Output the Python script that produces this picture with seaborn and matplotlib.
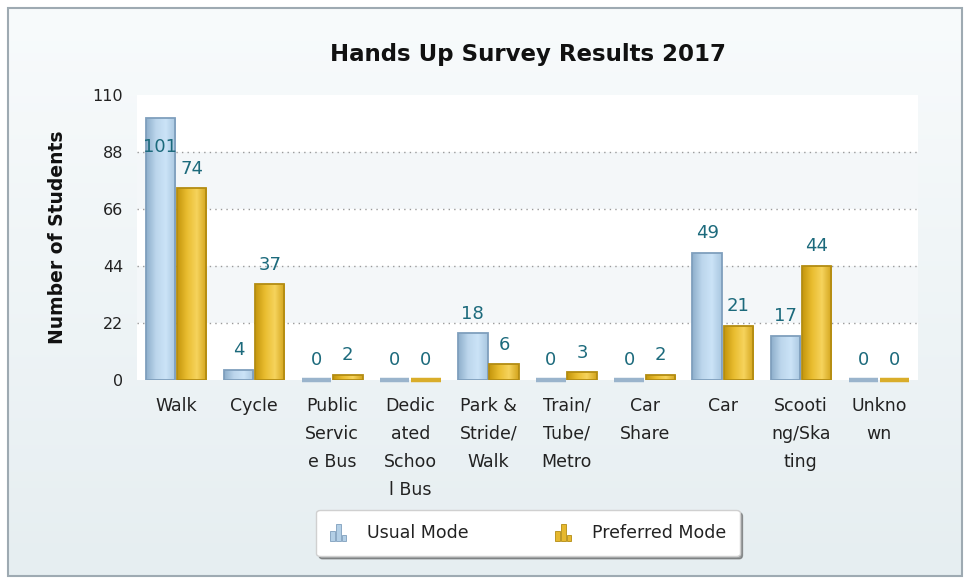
import numpy as np
import pandas as pd
import matplotlib
matplotlib.use("Agg")
import matplotlib.pyplot as plt
import seaborn as sns
from matplotlib.patches import Rectangle
from matplotlib.colors import LinearSegmentedColormap
from matplotlib.legend_handler import HandlerBase

# ---------------- data ----------------
categories = ["Walk", "Cycle", "Public Service Bus", "Dedicated School Bus",
              "Park & Stride/Walk", "Train/Tube/Metro", "Car Share", "Car",
              "Scooting/Skating", "Unknown"]
tick_labels = ["Walk", "Cycle", "Public\nServic\ne Bus", "Dedic\nated\nSchoo\nl Bus",
               "Park &\nStride/\nWalk", "Train/\nTube/\nMetro", "Car\nShare", "Car",
               "Scooti\nng/Ska\nting", "Unkno\nwn"]
usual = [101, 4, 0, 0, 18, 0, 0, 49, 17, 0]
preferred = [74, 37, 2, 0, 6, 3, 2, 21, 44, 0]
series_names = ["Usual Mode", "Preferred Mode"]
yticks = [0, 22, 44, 66, 88, 110]
title = "Hands Up Survey Results 2017"
ylabel = "Number of Students"

df = pd.DataFrame({
    "category": categories * 2,
    "value": usual + preferred,
    "mode": [series_names[0]] * len(categories) + [series_names[1]] * len(categories),
})

base_colors = ["#b3cfe6", "#e6b82e"]
edge_colors = ["#7f9fbd", "#b38c12"]
zero_colors = ["#9ab4cc", "#d9ad2a"]
grad_colors = [["#8eaecb", "#bcd6ec", "#cbe3f7", "#a9c7e0"],
               ["#c4960c", "#e9bd30", "#f6d35c", "#d3a41c"]]
label_color = "#1c6a7c"

sns.set_theme(style="white")
plt.rcParams["font.family"] = ["DejaVu Sans"]

W, H = 965, 578
fig = plt.figure(figsize=(W / 100, H / 100), dpi=100)
fig.patch.set_facecolor("white")

# ---------------- background ----------------
bg = fig.add_axes([0, 0, 1, 1], zorder=-10)
bg.set_axis_off()
bg.set_xlim(0, 1)
bg.set_ylim(0, 1)
bx0, by0, bx1, by1 = 8 / W, 1 - 576 / H, 962 / W, 1 - 8 / H
cmap_bg = LinearSegmentedColormap.from_list("bg", ["#f8fbfc", "#e6eef1"])
bg.imshow(np.linspace(0, 1, 256).reshape(-1, 1), cmap=cmap_bg, aspect="auto",
          extent=[bx0, bx1, by0, by1], origin="upper", zorder=0)
bg.add_patch(Rectangle((bx0, by0), bx1 - bx0, by1 - by0, fill=False,
                       edgecolor="#9eaab2", lw=1.5, zorder=1))

# ---------------- main axes ----------------
ax = fig.add_axes([137 / W, 1 - 380 / H, (918 - 137) / W, (380 - 95) / H])
ax.set_facecolor("white")

sns.barplot(data=df, x="category", y="value", hue="mode", palette=base_colors,
            width=0.8, gap=0.06, saturation=1, ax=ax, legend=False, zorder=3)

ax.set_ylim(yticks[0], yticks[-1])
ax.set_xlim(-0.5, len(categories) - 0.5)

# alternating bands + dotted grid
for i in range(len(yticks) - 1):
    if i % 2 == 1:
        ax.axhspan(yticks[i], yticks[i + 1], color="#f4f7f9", zorder=0, lw=0)
for y in yticks[1:-1]:
    ax.axhline(y, color="#9a9a9a", ls=(0, (1, 3)), lw=1, zorder=1)

# gradient bars
for s, cont in enumerate(ax.containers):
    cmap = LinearSegmentedColormap.from_list(f"g{s}", grad_colors[s])
    for patch in cont.patches:
        x0, y0 = patch.get_x(), patch.get_y()
        w, h = patch.get_width(), patch.get_height()
        patch.set_edgecolor(edge_colors[s])
        if h > 0:
            im = ax.imshow(np.linspace(0, 1, 64).reshape(1, -1), cmap=cmap,
                           extent=[x0, x0 + w, y0, y0 + h], aspect="auto", zorder=2.5)
            im.set_clip_path(patch)
            patch.set_facecolor("none")
            patch.set_linewidth(1.3)
        else:
            patch.set_linewidth(3.2)
            patch.set_edgecolor(zero_colors[s])
            patch.set_capstyle("butt")
            patch.set_joinstyle("bevel")
            patch.set_clip_on(False)
        patch.set_zorder(3)
ax.set_aspect("auto")
ax.set_xlim(-0.5, len(categories) - 0.5)
ax.set_ylim(yticks[0], yticks[-1])

# value labels
for s, cont in enumerate(ax.containers):
    vals = [usual, preferred][s]
    for patch, v in zip(cont.patches, vals):
        cx = patch.get_x() + patch.get_width() / 2
        off = 10.5 if v < 95 else -24
        ax.annotate(f"{v}", (cx, v), xytext=(0, off), textcoords="offset points",
                    ha="center", va="baseline", fontsize=13, color=label_color, zorder=5)

for sp in ax.spines.values():
    sp.set_visible(False)
ax.set_yticks(yticks)
ax.set_yticklabels([str(t) for t in yticks], fontsize=11.5, color="#222222")
ax.set_xticks(range(len(categories)))
ax.set_xticklabels(tick_labels, fontsize=12.5, color="#222222", linespacing=1.72)
ax.tick_params(axis="both", length=0)
ax.tick_params(axis="x", pad=12)
ax.tick_params(axis="y", pad=10)
ax.set_xlabel("")
ax.set_ylabel(ylabel, fontsize=13.5, fontweight="bold", color="#111111")
ax.yaxis.set_label_coords((67 - 137) / (918 - 137), 0.5)

fig.text(528 / W, 1 - 55 / H, title, ha="center", va="center",
         fontsize=16.5, fontweight="bold", color="#111111")

# legend with small bar-chart icons
class BarIconHandler(HandlerBase):
    def create_artists(self, legend, orig_handle, xdescent, ydescent, width, height, fontsize, trans):
        fc = orig_handle.get_facecolor()
        ec = orig_handle.get_edgecolor()
        arts = []
        bw = width / 4.0
        hs = [0.55, 1.0, 0.35]
        for i, hh in enumerate(hs):
            r = Rectangle((-xdescent + i * bw * 1.2, -ydescent), bw, height * hh,
                          facecolor=fc, edgecolor=ec, lw=0.6, transform=trans)
            arts.append(r)
        return arts

handles = [Rectangle((0, 0), 1, 1, facecolor=base_colors[i], edgecolor=edge_colors[i])
           for i in range(2)]
leg = fig.legend(handles, series_names, loc="center", bbox_to_anchor=(528 / W, 1 - 533 / H),
                 ncol=2, frameon=True, fancybox=True, shadow=True, fontsize=12.5,
                 columnspacing=5.0, handlelength=1.1, handleheight=1.1, handletextpad=1.0,
                 borderpad=0.8, borderaxespad=0, handler_map={Rectangle: BarIconHandler()})
leg.get_frame().set_edgecolor("#d0d0d0")
leg.get_frame().set_facecolor("white")
leg.get_frame().set_alpha(1)
for t in leg.get_texts():
    t.set_color("#222222")

fig.savefig("out.png", dpi=100)
